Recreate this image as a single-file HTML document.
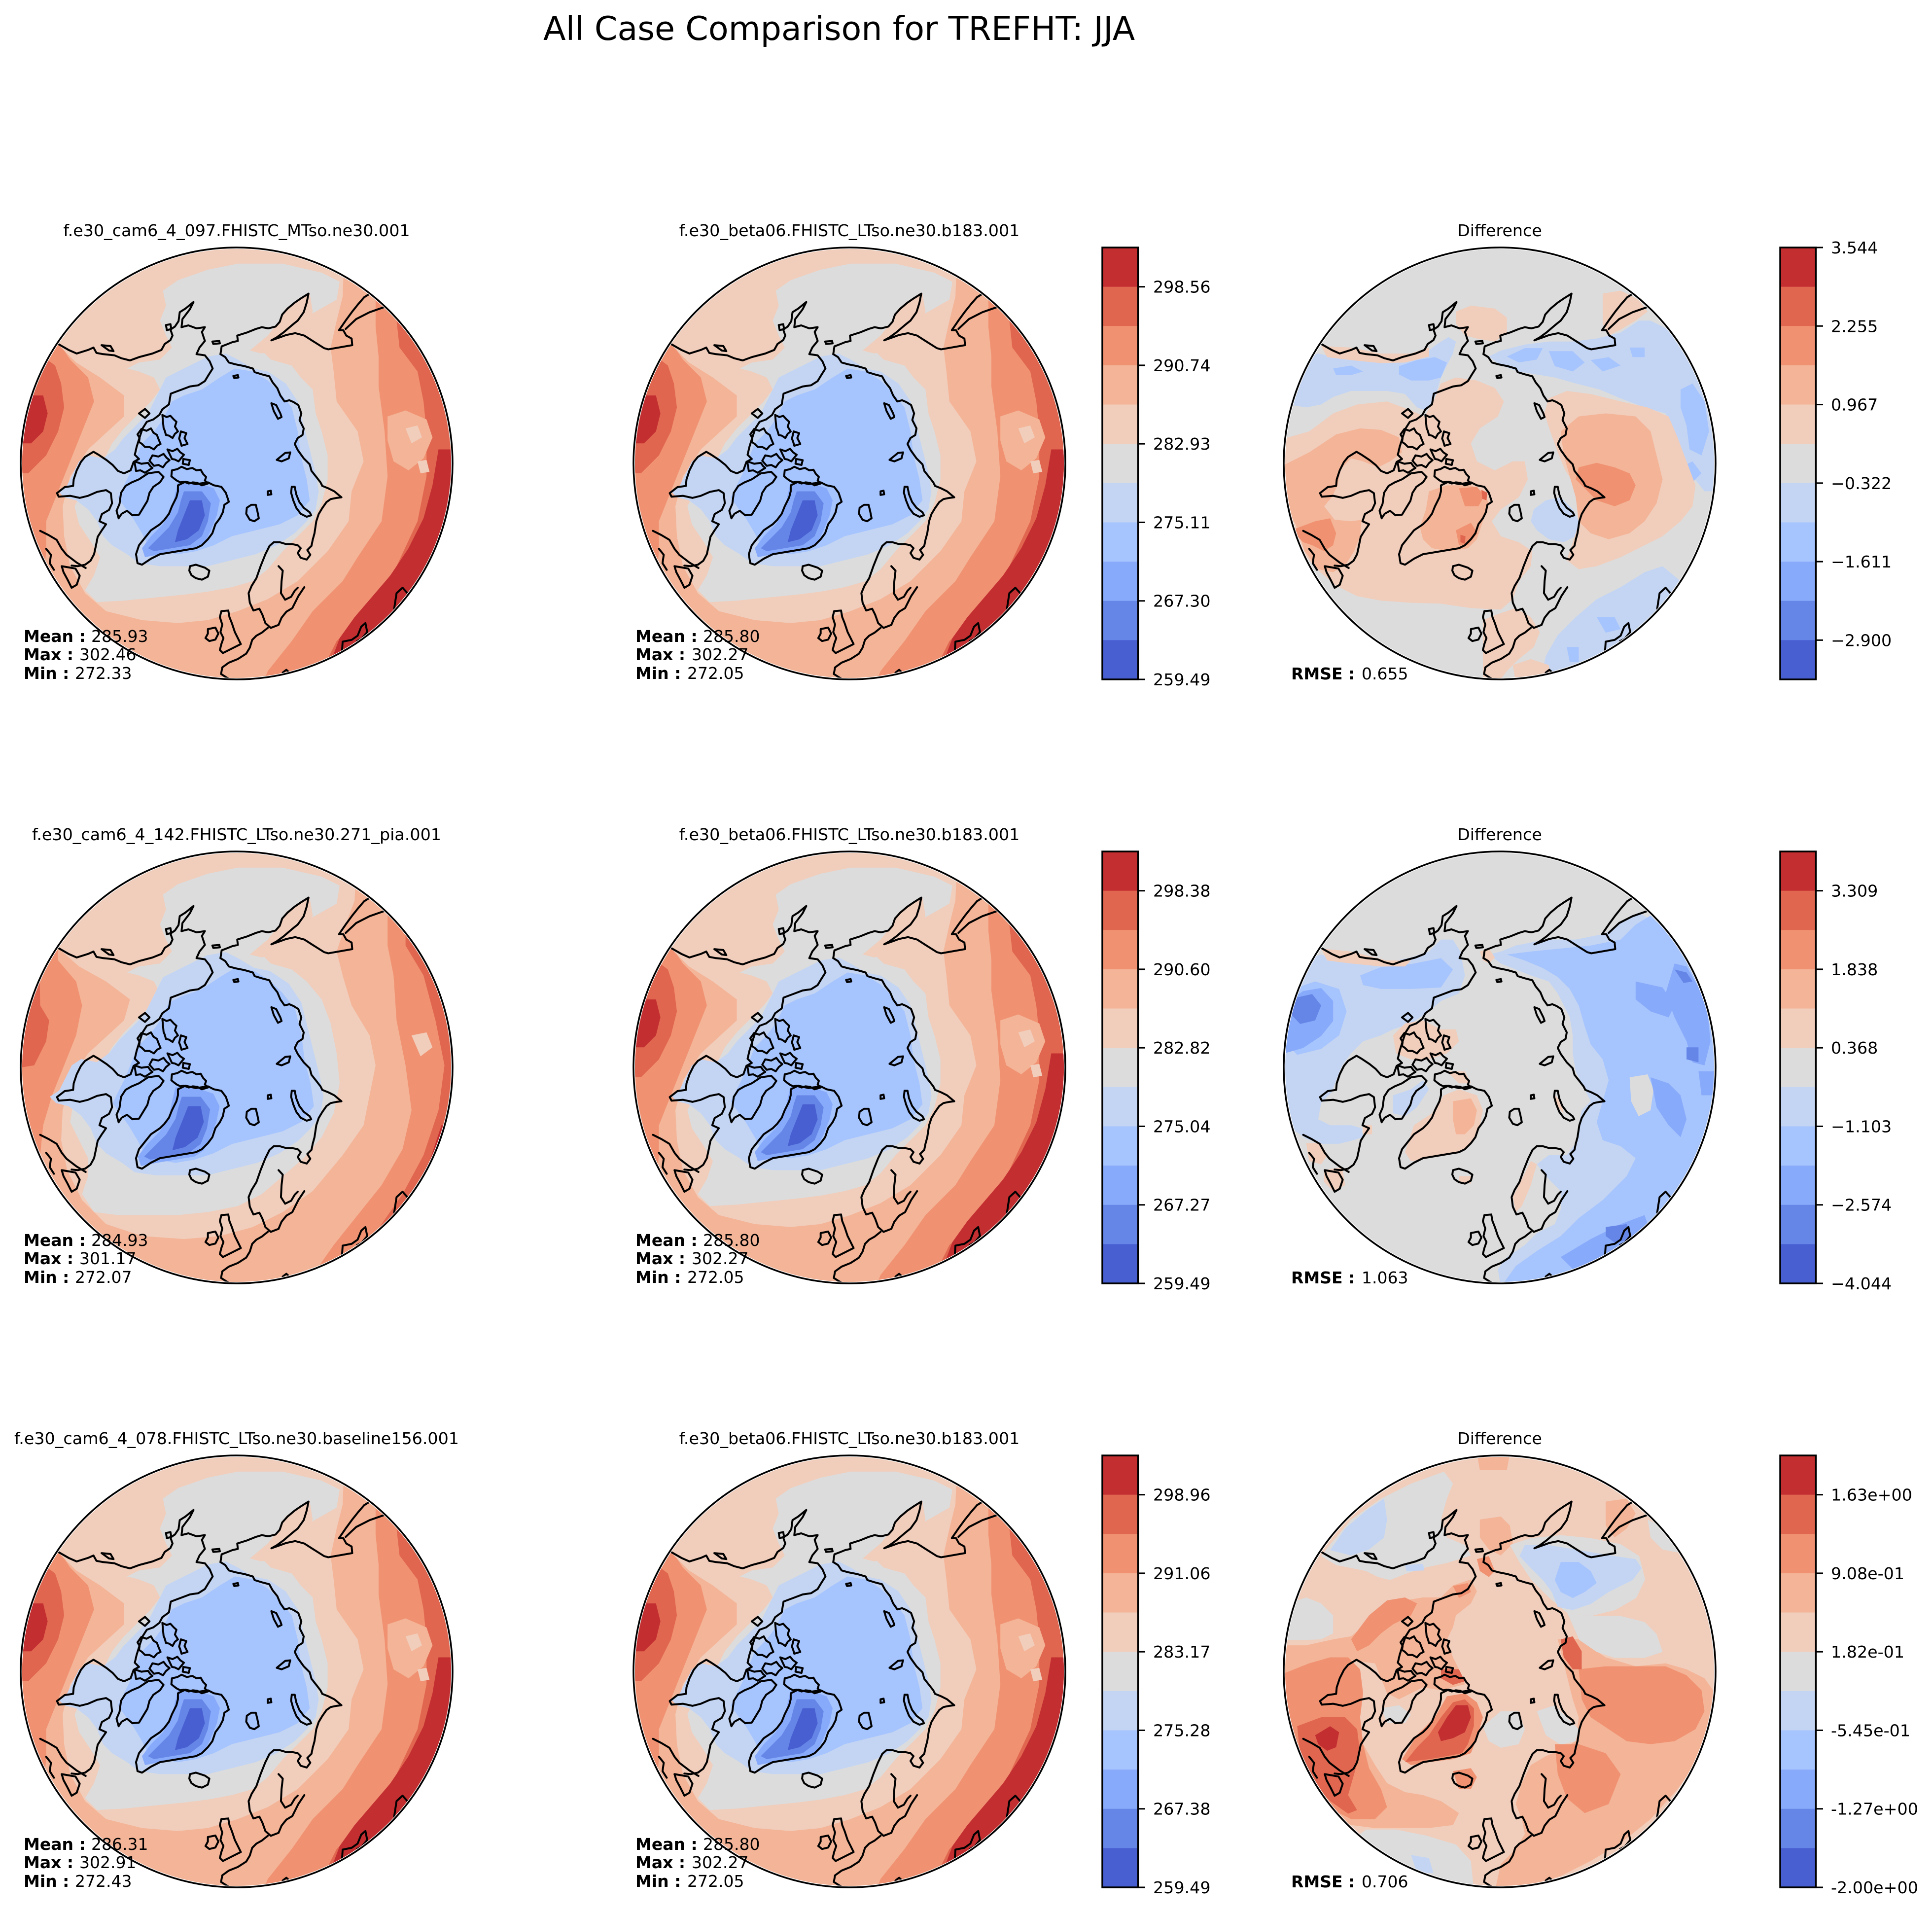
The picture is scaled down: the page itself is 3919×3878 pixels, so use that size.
<!DOCTYPE html>
<html><head><meta charset="utf-8"><style>
html,body{margin:0;padding:0;background:#fff;}
svg{display:block;}
text{font-family:"DejaVu Sans","Liberation Sans",sans-serif;fill:#000;}
.st{font-size:33.3px;}
.tk{font-size:33.3px;}
.lb{font-size:33px;font-weight:bold;}
.vl{font-size:33px;}
</style></head><body>
<svg xmlns="http://www.w3.org/2000/svg" xmlns:xlink="http://www.w3.org/1999/xlink" width="3919" height="3878" viewBox="0 0 3919 3878">
<defs>
<clipPath id="cc"><circle cx="796" cy="807" r="716"/></clipPath>

<g id="coast" fill="none" stroke="#000" stroke-width="6.5" stroke-linejoin="round" stroke-linecap="round">
<path d="M200,408 L235,428 L262,440 L300,428 L318,420 L328,438 L350,442 L388,446 L412,456 L440,463 L470,452 L515,440 L545,428 L556,408 L575,395 L582,380 L575,360 L590,350 L602,332 L606,302 L625,290 L652,268 L640,292 L615,325 L612,352 L635,346 L662,356 L690,352 L680,368 L690,398 L672,420 L662,442 L690,446 L706,466 L716,490 L702,512 L690,532 L668,546 L640,550 L608,562 L576,574 L570,610 L548,626 L538,645 L518,660"/>
<path d="M560,345 L575,342 L578,358 L563,362 Z M345,412 L375,415 L385,432 L370,430 Z M715,400 L738,398 L740,406 L718,408 Z"/>
<path d="M518,660 L496,668 L482,690 L472,720 L462,752 L456,778 L470,792 L452,802 L442,830 L420,840 L400,832 L382,812 L362,796 L335,778 L318,768 L290,785 L276,802 L262,830 L252,860 L250,882 L222,886 L196,906 L202,918 L240,915 L272,922 L300,915 L330,902 L360,896 L376,906 L380,940 L370,962 L346,976 L338,1000 L360,1010 L346,1030 L332,1052 L326,1082 L320,1110 L308,1132 L290,1145 L266,1150 L245,1148"/>
<path d="M140,1032 L168,1046 L195,1062 L212,1092 L228,1112 L262,1138 L282,1150 L292,1156 M212,1150 L258,1158 L272,1182 L262,1212 L245,1222 L232,1196 L218,1170 Z M160,1092 L176,1112 L172,1140 L186,1162"/>
<path d="M500,840 L535,835 L552,852 L540,870 L518,885 L505,905 L498,932 L484,955 L470,978 L448,980 L430,965 L412,975 L402,990 L395,965 L405,942 L410,905 L425,882 L446,870 L470,860 Z"/>
<path d="M548,645 L562,652 L575,648 L586,660 L595,668 L590,684 L600,700 L590,708 L582,722 L570,714 L560,712 L556,698 L552,688 Z M478,692 L495,698 L510,690 L518,704 L530,712 L536,728 L542,742 L530,748 L520,760 L505,752 L490,752 L480,742 L470,735 L472,722 L465,710 Z M610,700 L628,706 L622,722 L632,742 L612,748 L608,734 L604,724 Z M515,780 L535,784 L552,775 L562,788 L572,796 L560,806 L550,820 L535,812 L520,815 L505,798 Z M565,760 L582,766 L598,758 L608,770 L620,778 L610,790 L602,800 L590,794 L580,792 Z M618,792 L640,796 L636,812 L616,808 Z M455,800 L478,808 L500,805 L508,816 L515,822 L502,830 L490,838 L475,830 L460,832 Z M580,830 L598,826 L612,818 L630,826 L648,822 L662,830 L676,828 L684,842 L694,852 L690,864 L700,874 L680,880 L665,872 L650,870 L636,874 L620,868 L608,870 L596,864 L588,858 L578,850 Z M470,640 L490,625 L505,640 L490,655 Z"/>
<path d="M600,880 L625,868 L660,876 L700,870 L720,880 L745,885 L760,905 L770,935 L755,945 L750,970 L740,990 L725,1010 L715,1040 L700,1060 L680,1080 L660,1090 L630,1095 L600,1100 L570,1105 L540,1110 L510,1125 L480,1145 L465,1140 L460,1110 L470,1080 L490,1055 L510,1030 L540,1010 L555,995 L570,975 L580,950 L595,920 L600,900 Z"/>
<path d="M640,1150 L660,1145 L690,1155 L705,1165 L700,1185 L680,1195 L660,1190 L645,1180 L638,1165 Z"/>
<path d="M745,1300 L768,1298 L772,1320 L780,1340 L790,1370 L800,1390 L810,1410 L790,1420 L770,1430 L750,1440 L740,1430 L745,1410 L752,1390 L742,1370 L748,1345 L740,1320 Z M700,1360 L725,1355 L735,1375 L725,1395 L705,1400 L692,1390 L700,1375 Z"/>
<path d="M742,442 L746,416 L762,410 L782,402 L800,398 L798,380 L830,370 L860,358 L880,352 L902,356 L926,350 L940,334 L948,310 L966,290 L990,270 L1012,255 L1036,240 L1030,270 L1020,302 L1000,330 L980,346 L952,370 L930,386 L912,396 L940,386 L962,378 L992,372 L1022,380 L1050,398 L1088,422 L1102,426 L1182,412 L1180,390 L1162,380 L1152,362 L1138,362 L1160,330 L1182,300 L1202,275 L1222,252 L1238,242 L1250,232"/>
<path d="M1160,358 L1195,325 L1240,302 L1292,284"/>
<path d="M742,442 L758,452 L770,470 L792,476 L822,482 L850,490 L856,502 L882,510 L905,516 L916,536 L932,556 L942,580 L956,600 L972,596 L986,602 L1002,612 L1012,640 L1006,662 L1020,690 L1016,712 L1000,722 L990,742 L1000,762 L1020,790 L1040,810 L1046,832 L1062,852 L1076,870 L1082,882 L1102,890 L1122,900 L1146,920 L1130,922 L1110,926 L1096,936 L1082,956 L1070,976 L1062,1000 L1056,1040 L1050,1062 L1046,1082 L1032,1096 L1042,1112 L1030,1128 L1010,1122 L1000,1106 L1010,1090 L1000,1080 L980,1076 L960,1076 L940,1070 L920,1070 L906,1082 L892,1110 L876,1150 L862,1190 L846,1216 L836,1240 L840,1272 L852,1298 L872,1292 L882,1312 L892,1340 L910,1356 L936,1346 L946,1322 L962,1302 L982,1290 L992,1270 L1002,1250 L1022,1220"/>
<path d="M936,1150 L950,1165 L946,1200 L944,1240 L958,1262 L978,1252 L990,1232 L1000,1222"/>
<path d="M900,1356 L880,1372 L862,1382 L848,1396 L840,1422 L828,1442 L800,1460 L770,1472 L748,1488 L744,1510 L760,1520 L780,1532"/>
<path d="M1322,1292 L1330,1240 L1350,1222 L1368,1242 M1148,1432 L1150,1402 L1180,1396 L1200,1382 L1212,1352 L1226,1340 L1232,1370 L1214,1392 L1198,1400 M950,1505 L962,1496 L972,1505"/>
<path d="M980,885 L990,885 L995,910 L1005,935 L1020,955 L1040,970 L1045,980 L1030,985 L1010,975 L995,955 L985,930 L978,905 Z M830,955 L845,945 L860,945 L865,965 L870,990 L855,1000 L840,995 L828,975 Z M900,900 L910,898 L912,910 L900,912 Z M912,606 L928,612 L942,640 L946,652 L934,658 L920,632 Z M930,795 L958,772 L975,770 L970,790 L946,800 Z M785,515 L800,512 L802,520 L788,522 Z"/>
</g>

<g id="blueA">
<path fill="#c4d5f3" d="M560,520 L620,490 L700,450 L760,440 L800,460 L850,490 L900,500 L960,540 L1000,600 L1020,680 L1040,760 L1060,840 L1070,900 L1060,960 L1030,1000 L990,1040 L930,1080 L860,1110 L780,1130 L700,1150 L620,1150 L540,1150 L470,1140 L430,1110 L380,1080 L350,1050 L330,1000 L300,960 L260,930 L220,920 L200,900 L230,880 L250,840 L270,800 L300,780 L350,790 L390,760 L420,720 L460,680 L500,640 L530,580 Z"/>
<path fill="#a6c4fe" d="M580,600 L620,580 L680,560 L740,520 L790,490 L850,500 L900,530 L940,570 L980,620 L1000,700 L1010,780 L1030,860 L1040,930 L1000,980 L940,1010 L860,1030 L780,1050 L720,1080 L660,1100 L600,1110 L540,1100 L500,1080 L480,1040 L450,990 L420,950 L400,920 L420,880 L440,840 L460,790 L480,740 L520,700 L550,660 Z"/>
<path fill="#88aafa" d="M600,870 L660,870 L720,890 L740,930 L730,980 L710,1030 L690,1070 L660,1090 L600,1100 L540,1110 L490,1120 L480,1090 L510,1050 L550,1010 L580,960 L590,910 Z"/>
<path fill="#6686e7" d="M620,900 L680,900 L710,940 L700,1000 L680,1050 L640,1080 L580,1090 L520,1100 L500,1090 L530,1060 L570,1020 L600,970 L610,930 Z"/>
<path fill="#485fd1" d="M640,930 L680,930 L690,980 L670,1030 L630,1060 L590,1070 L600,1030 L620,980 Z"/>
</g>

<g id="mapA">
<rect x="0" y="0" width="1600" height="1650" fill="#f4b497"/>
<path fill="#f09272" d="M1260,0 L1260,350 L1270,450 L1270,550 L1290,700 L1300,850 L1280,1000 L1200,1120 L1150,1200 L1050,1300 L980,1400 L900,1500 L860,1600 L1700,1700 L1700,0 Z"/>
<path fill="#f09272" d="M0,0 L200,0 L200,400 L240,460 L300,520 L320,600 L280,700 L240,800 L200,900 L160,1000 L160,1100 L150,1200 L140,1300 L0,1300 Z"/>
<path fill="#e0664f" d="M1330,0 L1330,330 L1340,420 L1400,500 L1420,600 L1430,700 L1430,850 L1400,1000 L1330,1150 L1260,1250 L1180,1350 L1130,1400 L1080,1500 L1050,1600 L1700,1700 L1700,0 Z"/>
<path fill="#e0664f" d="M0,0 L150,0 L150,450 L190,480 L210,540 L220,620 L200,700 L160,780 L100,840 L0,840 Z"/>
<path fill="#c32e31" d="M1470,760 L1450,880 L1420,990 L1370,1090 L1310,1180 L1250,1250 L1190,1320 L1140,1390 L1110,1470 L1090,1600 L1700,1600 L1700,760 Z"/>
<path fill="#c32e31" d="M0,580 L150,580 L165,640 L150,700 L110,740 L0,740 Z"/>
<path fill="#f4b497" d="M1300,650 L1360,630 L1430,660 L1450,720 L1420,790 L1370,830 L1320,800 L1300,730 Z"/>
<path fill="#f1cdbb" d="M1360,690 L1400,680 L1415,720 L1380,740 Z M1400,800 L1430,795 L1440,835 L1410,840 Z"/>
<path fill="#f1cdbb" d="M150,380 L150,0 L1160,0 L1150,250 L1130,330 L1110,420 L1120,500 L1130,600 L1200,700 L1220,800 L1180,900 L1170,1000 L1100,1100 L1000,1200 L900,1260 L800,1300 L700,1330 L600,1340 L480,1330 L360,1300 L290,1240 L240,1150 L220,1050 L215,950 L240,850 L300,760 L420,650 L420,580 L340,520 L260,470 L190,400 Z"/>
<path fill="#dcdcdc" d="M550,230 L600,195 L700,160 L800,140 L950,140 L1080,170 L1140,200 L1130,260 L1060,300 L1000,330 L950,360 L900,400 L880,430 L910,460 L980,480 L1010,520 L1050,560 L1060,640 L1080,700 L1100,780 L1100,860 L1080,940 L1050,1000 L1000,1050 L950,1100 L900,1160 L850,1200 L780,1220 L700,1235 L620,1245 L520,1255 L420,1265 L330,1270 L290,1230 L320,1180 L340,1120 L310,1070 L270,1010 L255,950 L280,900 L320,850 L350,800 L380,740 L420,690 L470,640 L510,600 L540,560 L520,520 L470,500 L430,490 L470,470 L540,460 L580,420 L560,380 L540,330 L560,280 Z"/>
<path fill="#f1cdbb" d="M900,380 L940,330 L960,290 L1000,260 L1040,240 L1050,300 L1030,350 L990,390 L940,420 L880,440 L840,430 Z"/>
<use xlink:href="#blueA"/>
</g>

<g id="mapB">
<rect x="0" y="0" width="1600" height="1650" fill="#f4b497"/>
<path fill="#f09272" d="M1300,0 L1300,400 L1320,500 L1330,650 L1360,800 L1380,950 L1350,1080 L1280,1200 L1200,1300 L1120,1400 L1050,1500 L1000,1600 L1700,1700 L1700,0 Z"/>
<path fill="#f09272" d="M0,0 L180,0 L200,450 L260,520 L280,600 L260,700 L220,800 L180,900 L150,1000 L140,1100 L0,1100 Z"/>
<path fill="#e0664f" d="M1360,0 L1360,400 L1420,500 L1460,650 L1490,800 L1470,950 L1420,1100 L1350,1230 L1280,1330 L1220,1420 L1180,1520 L1150,1600 L1700,1700 L1700,0 Z"/>
<path fill="#e0664f" d="M0,0 L130,0 L140,600 L170,650 L160,720 L120,800 L0,820 Z"/>
<path fill="#c32e31" d="M1480,1000 L1440,1120 L1380,1230 L1320,1300 L1270,1350 L1250,1450 L1700,1600 L1700,1000 Z"/>
<path fill="#f1cdbb" d="M1380,700 L1430,690 L1450,740 L1410,770 Z"/>
<path fill="#f1cdbb" d="M150,380 L150,0 L1200,0 L1190,250 L1160,330 L1130,420 L1150,500 L1180,600 L1240,700 L1260,800 L1240,900 L1220,1000 L1150,1100 L1050,1220 L950,1290 L850,1340 L740,1370 L620,1380 L480,1370 L360,1330 L280,1250 L230,1150 L210,1050 L215,950 L240,850 L300,760 L420,650 L440,580 L360,520 L270,470 L190,400 Z"/>
<path fill="#dcdcdc" d="M550,230 L600,195 L700,160 L800,140 L950,140 L1080,170 L1140,200 L1130,260 L1060,300 L1000,330 L950,360 L900,400 L880,430 L910,460 L980,480 L1030,520 L1080,580 L1110,660 L1130,760 L1140,860 L1120,960 L1080,1040 L1020,1110 L950,1170 L880,1230 L800,1270 L700,1290 L600,1300 L500,1300 L400,1300 L320,1290 L280,1230 L300,1170 L300,1110 L270,1050 L240,990 L250,930 L280,880 L320,840 L350,790 L380,740 L420,690 L470,640 L510,600 L540,560 L520,520 L470,500 L430,490 L470,470 L540,460 L580,420 L560,380 L540,330 L560,280 Z"/>
<path fill="#f1cdbb" d="M900,380 L940,330 L960,290 L1000,260 L1040,240 L1050,300 L1030,350 L990,390 L940,420 L880,440 L840,430 Z"/>
<g transform="translate(760,800) scale(1.05) translate(-760,-800)"><use xlink:href="#blueA"/></g>
</g>

<g id="d1">
<rect x="0" y="0" width="1600" height="1650" fill="#dcdcdc"/>
<path fill="#c4d5f3" d="M100,470 L190,440 L260,455 L330,465 L400,470 L470,455 L540,445 L585,410 L625,385 L650,400 L640,440 L620,480 L600,520 L585,570 L570,610 L550,630 L520,620 L480,575 L420,565 L360,565 L300,565 L240,585 L200,610 L150,620 L60,605 L60,470 Z"/>
<path fill="#c4d5f3" d="M760,450 L800,430 L880,410 L960,400 L1040,400 L1120,390 L1200,370 L1260,330 L1300,330 L1360,360 L1420,410 L1470,480 L1500,560 L1530,700 L1530,900 L1480,900 L1440,850 L1400,780 L1380,700 L1350,640 L1280,620 L1200,590 L1130,560 L1050,540 L980,520 L920,510 L860,500 L800,480 Z"/>
<path fill="#c4d5f3" d="M930,1540 L950,1450 L990,1380 L1050,1320 L1120,1260 L1200,1220 L1280,1170 L1340,1150 L1400,1200 L1380,1280 L1330,1350 L1250,1420 L1150,1480 L1050,1540 Z"/>
<path fill="#c4d5f3" d="M910,960 L950,930 L1000,920 L1040,960 L1060,1000 L1050,1050 L1010,1070 L960,1060 L920,1030 L900,1000 Z"/>
<path fill="#a6c4fe" d="M240,490 L300,480 L340,500 L300,512 L250,512 Z M460,482 L520,462 L580,452 L620,470 L600,520 L560,530 L500,530 L460,510 Z M820,450 L880,422 L940,422 L920,460 L860,470 Z M960,432 L1040,432 L1080,470 L1040,500 L980,482 Z M1100,462 L1160,452 L1200,480 L1140,500 Z M1230,420 L1280,420 L1280,452 L1240,452 Z M1400,560 L1440,540 L1480,600 L1495,700 L1470,780 L1430,760 L1420,680 L1400,620 Z M1400,820 L1440,800 L1470,840 L1440,870 Z M1120,1320 L1180,1320 L1200,1360 L1150,1372 Z M1020,1420 L1060,1420 L1060,1470 L1030,1470 Z"/>
<path fill="#f1cdbb" d="M90,720 L160,700 L240,640 L320,610 L420,600 L500,630 L545,650 L575,600 L600,540 L650,520 L720,530 L780,555 L810,600 L790,650 L730,690 L700,740 L720,800 L780,830 L840,800 L880,800 L890,860 L860,920 L800,960 L770,1000 L800,1050 L860,1070 L905,1100 L900,1150 L860,1200 L840,1260 L800,1295 L700,1290 L600,1275 L500,1272 L400,1265 L320,1250 L250,1215 L185,1160 L135,1100 L105,1020 L60,920 L60,720 Z"/>
<path fill="#f1cdbb" d="M960,590 L1020,565 L1100,575 L1200,600 L1290,620 L1360,650 L1390,720 L1420,800 L1450,880 L1440,950 L1400,1000 L1340,1050 L1280,1080 L1200,1120 L1120,1150 L1060,1160 L1020,1130 L1040,1070 L1060,1010 L1080,950 L1055,890 L1015,830 L990,770 L965,700 L945,640 Z"/>
<path fill="#f1cdbb" d="M650,300 L700,280 L780,290 L820,320 L820,370 L780,400 L720,390 L680,380 L650,340 Z M1140,240 L1200,230 L1260,260 L1290,300 L1250,330 L1200,360 L1160,380 L1140,340 Z M200,415 L300,420 L400,440 L500,440 L560,420 L560,450 L480,470 L400,472 L300,462 L220,452 Z M740,1330 L790,1310 L850,1290 L900,1320 L930,1370 L910,1420 L860,1460 L820,1500 L790,1540 L740,1540 Z M840,1480 L900,1460 L960,1480 L970,1540 L850,1540 Z"/>
<path fill="#f4b497" d="M60,820 L160,770 L250,710 L330,690 L400,695 L460,720 L470,770 L430,800 L390,820 L340,800 L300,790 L265,825 L255,880 L235,920 L210,950 L245,995 L300,1000 L335,995 L330,1050 L310,1100 L285,1140 L240,1170 L190,1160 L145,1100 L115,1010 L60,920 Z"/>
<path fill="#f4b497" d="M560,900 L620,880 L700,880 L740,900 L760,940 L740,1000 L720,1060 L690,1090 L630,1100 L570,1090 L540,1060 L530,1020 L550,960 Z"/>
<path fill="#f4b497" d="M1000,700 L1060,650 L1150,640 L1250,650 L1300,700 L1320,780 L1340,860 L1320,940 L1280,1000 L1230,1040 L1160,1060 L1100,1040 L1060,1000 L1050,920 L1030,850 L1010,780 Z"/>
<path fill="#f09272" d="M1060,820 L1120,805 L1180,820 L1230,840 L1250,880 L1230,930 L1180,950 L1120,930 L1080,890 L1050,860 Z M660,890 L720,885 L745,915 L725,950 L680,950 Z M650,1030 L700,1005 L722,1040 L690,1080 L660,1080 Z M100,1030 L180,1000 L230,990 L250,1040 L240,1080 L210,1100 L170,1080 L140,1070 Z"/>
<path fill="#e0664f" d="M735,895 L755,905 L752,930 L738,925 Z M665,1045 L682,1050 L680,1075 L665,1070 Z"/>
</g>

<g id="d2">
<rect x="0" y="0" width="1600" height="1650" fill="#dcdcdc"/>
<path fill="#c4d5f3" d="M60,470 L200,430 L300,460 L400,460 L500,440 L560,420 L600,380 L640,380 L665,420 L680,500 L660,560 L600,585 L560,620 L500,660 L440,680 L400,700 L340,720 L300,760 L270,800 L250,850 L235,890 L200,925 L190,980 L230,1000 L300,1000 L335,1010 L340,1040 L300,1052 L260,1062 L200,1062 L150,1045 L100,1010 L60,900 Z"/>
<path fill="#a6c4fe" d="M60,560 L180,520 L260,545 L285,620 L260,700 L200,745 L120,765 L60,700 Z M330,500 L400,472 L500,462 L600,442 L640,480 L600,540 L500,545 L400,545 L340,532 Z"/>
<path fill="#88aafa" d="M70,600 L140,552 L200,542 L240,585 L240,652 L200,702 L140,742 L70,762 Z"/>
<path fill="#6686e7" d="M90,580 L170,562 L200,600 L180,650 L130,662 L90,620 Z"/>
<path fill="#c4d5f3" d="M760,430 L800,420 L850,400 L950,380 L1050,380 L1150,360 L1200,320 L1260,290 L1330,330 L1420,420 L1480,520 L1530,650 L1530,800 L1530,950 L1480,1100 L1420,1220 L1340,1330 L1250,1420 L1150,1480 L1050,1540 L800,1540 L790,1480 L820,1440 L880,1400 L920,1360 L980,1330 L1000,1280 L1000,1220 L960,1180 L920,1130 L960,1100 L1020,1100 L1050,1060 L1060,1000 L1070,950 L1100,920 L1080,880 L1050,820 L1040,760 L1040,700 L1030,640 L1010,600 L990,560 L960,520 L900,500 L850,480 L800,460 Z"/>
<path fill="#a6c4fe" d="M820,430 L900,420 L1000,410 L1100,400 L1200,380 L1250,330 L1300,300 L1400,400 L1480,520 L1530,700 L1530,900 L1480,1080 L1400,1220 L1300,1340 L1200,1440 L1100,1500 L950,1540 L800,1540 L850,1470 L920,1420 L1000,1370 L1060,1310 L1140,1250 L1220,1170 L1250,1110 L1200,1070 L1140,1050 L1120,990 L1140,920 L1160,850 L1140,780 L1100,730 L1080,670 L1060,600 L1030,545 L990,505 L940,475 L880,450 Z"/>
<path fill="#dcdcdc" d="M1230,840 L1290,830 L1310,880 L1300,950 L1260,970 L1235,920 Z"/>
<path fill="#88aafa" d="M1380,460 L1420,470 L1460,540 L1490,620 L1500,720 L1480,800 L1440,790 L1420,720 L1380,640 L1350,560 Z M1250,520 L1340,540 L1380,600 L1360,640 L1300,620 L1250,580 Z M1300,840 L1360,860 L1400,900 L1420,980 L1400,1040 L1360,1000 L1320,940 Z M1000,1440 L1100,1380 L1200,1330 L1280,1300 L1300,1360 L1220,1420 L1120,1470 L1050,1490 Z M1460,820 L1520,820 L1520,900 L1470,900 Z"/>
<path fill="#6686e7" d="M1380,480 L1420,490 L1440,520 L1410,525 Z M1420,740 L1460,740 L1460,790 L1420,780 Z M1150,1340 L1220,1330 L1240,1380 L1180,1392 L1150,1370 Z"/>
<path fill="#c4d5f3" d="M440,900 L500,880 L540,850 L560,880 L520,940 L480,970 L440,960 Z"/>
<path fill="#f1cdbb" d="M510,1000 L570,960 L610,900 L660,880 L720,900 L740,950 L730,1000 L710,1050 L680,1080 L620,1100 L560,1110 L500,1120 L480,1090 Z M440,700 L480,660 L540,650 L600,680 L650,680 L660,720 L620,760 L560,780 L500,780 L450,760 Z M620,820 L680,820 L700,860 L660,860 Z M200,410 L300,420 L420,450 L500,450 L480,470 L400,470 L300,460 L220,450 Z M730,420 L760,410 L780,440 L760,460 L740,450 Z M150,1060 L200,1060 L220,1100 L200,1130 L160,1120 Z M210,1150 L270,1140 L280,1200 L240,1220 L210,1190 Z M340,1000 L370,1000 L370,1030 L340,1030 Z M840,1240 L870,1180 L900,1120 L920,1130 L900,1200 L870,1270 L850,1290 Z M980,900 L1000,920 L1010,960 L990,940 Z M660,1170 L700,1170 L700,1195 L660,1190 Z"/>
<path fill="#f4b497" d="M640,920 L700,910 L720,950 L710,1000 L680,1030 L650,1030 L640,980 Z"/>
</g>

<g id="d3">
<rect x="0" y="0" width="1600" height="1650" fill="#f1cdbb"/>
<path fill="#f4b497" d="M60,720 L150,720 L240,700 L300,690 L360,640 L420,600 L480,570 L540,560 L600,560 L640,520 L700,500 L720,540 L700,580 L650,620 L640,660 L620,700 L640,760 L660,800 L680,850 L600,870 L540,860 L500,880 L460,900 L420,880 L380,780 L300,770 L250,800 L220,880 L200,920 L250,960 L300,1000 L340,1050 L380,1120 L420,1180 L480,1210 L540,1220 L600,1240 L660,1280 L640,1320 L560,1330 L460,1330 L380,1330 L300,1320 L240,1290 L180,1230 L130,1150 L100,1050 L60,950 Z"/>
<path fill="#f4b497" d="M990,700 L1060,700 L1150,760 L1250,790 L1350,780 L1420,800 L1480,830 L1530,900 L1530,1000 L1460,1100 L1390,1200 L1300,1300 L1200,1380 L1100,1440 L1000,1490 L900,1520 L850,1540 L780,1540 L800,1450 L850,1400 L880,1350 L870,1300 L850,1250 L870,1180 L900,1120 L950,1090 L1000,1070 L1050,1040 L1060,960 L1040,900 L1020,820 Z"/>
<path fill="#f4b497" d="M730,300 L800,290 L830,320 L840,380 L800,420 L760,400 L730,360 Z M720,80 L830,80 L820,135 L730,135 Z M1150,240 L1220,230 L1250,280 L1220,330 L1180,360 L1150,320 Z"/>
<path fill="#dcdcdc" d="M220,395 L300,300 L400,230 L500,180 L610,140 L640,180 L620,230 L600,300 L620,360 L680,385 L700,420 L620,445 L540,462 L480,482 L430,502 L390,492 L350,472 L300,462 L250,452 L200,422 Z"/>
<path fill="#dcdcdc" d="M830,385 L900,362 L1000,352 L1100,362 L1200,382 L1262,422 L1282,500 L1252,562 L1182,602 L1102,622 L1022,612 L962,562 L902,502 L862,442 Z M1022,612 L1100,622 L1200,622 L1280,642 L1320,682 L1340,742 L1280,762 L1180,762 L1120,742 L1062,702 Z"/>
<path fill="#dcdcdc" d="M60,590 L150,560 L200,580 L240,620 L240,680 L200,700 L150,702 L60,702 Z M280,1385 L350,1335 L450,1335 L550,1355 L650,1385 L700,1440 L710,1540 L600,1540 L450,1500 L350,1460 Z M740,990 L800,940 L860,940 L880,1000 L860,1050 L800,1062 L760,1040 Z M920,940 L980,920 L1020,960 L1060,1000 L1050,1040 L1000,1052 L950,1020 Z M400,930 L460,920 L500,950 L480,980 L420,980 Z M1290,300 L1350,330 L1400,370 L1390,410 L1340,400 L1300,360 Z"/>
<path fill="#c4d5f3" d="M230,402 L280,330 L350,270 L410,230 L420,300 L410,360 L360,400 L300,420 Z M880,385 L960,385 L1060,402 L1180,422 L1250,432 L1270,462 L1240,502 L1160,542 L1100,582 L1040,602 L990,592 L970,542 L940,502 L900,462 L862,422 Z M480,452 L540,448 L545,470 L485,472 Z M500,1420 L560,1430 L575,1480 L520,1480 Z"/>
<path fill="#a6c4fe" d="M1000,442 L1060,442 L1100,472 L1120,512 L1080,542 L1040,562 L1000,542 L980,502 Z"/>
<path fill="#f09272" d="M60,820 L160,780 L230,760 L290,760 L330,800 L340,880 L330,960 L340,1050 L360,1130 L400,1200 L420,1260 L380,1300 L300,1300 L220,1260 L160,1200 L120,1120 L100,1030 L60,930 Z M300,700 L360,620 L420,570 L480,560 L520,580 L500,620 L440,650 L400,680 L360,720 L320,740 Z M470,1100 L520,1020 L580,960 L620,890 L680,880 L720,910 L740,960 L720,1030 L700,1080 L640,1100 L560,1110 L500,1120 Z M1060,800 L1150,790 L1250,790 L1350,790 L1420,820 L1470,870 L1480,940 L1450,1000 L1380,1040 L1300,1050 L1220,1040 L1160,1000 L1100,960 L1070,900 Z M980,1050 L1060,1050 L1150,1080 L1200,1150 L1160,1250 L1080,1280 L1020,1230 L990,1150 Z M720,432 L760,422 L780,472 L760,492 L730,472 Z M640,522 L690,512 L700,542 L660,562 Z M640,1140 L700,1130 L720,1160 L700,1200 L660,1200 Z"/>
<path fill="#e0664f" d="M120,990 L200,960 L280,960 L320,1000 L330,1080 L310,1150 L290,1220 L320,1270 L290,1282 L230,1240 L190,1200 L150,1160 L130,1090 Z M480,1110 L520,1060 L560,1020 L600,960 L640,910 L680,900 L710,930 L710,990 L690,1050 L670,1080 L620,1090 L560,1100 Z M1000,700 L1040,690 L1070,740 L1070,800 L1040,800 L1010,760 Z M600,800 L660,800 L680,840 L640,852 L600,830 Z"/>
<path fill="#c32e31" d="M180,1020 L230,990 L260,1010 L250,1060 L220,1072 L190,1050 Z M590,1010 L620,960 L650,920 L690,920 L700,960 L680,1010 L640,1030 L600,1040 Z"/>
</g>

<g id="cb" stroke="none">
<rect x="0" y="0" width="72.5" height="80" fill="#c32e31"/>
<rect x="0" y="79.64" width="72.5" height="80" fill="#e0664f"/>
<rect x="0" y="159.27" width="72.5" height="80" fill="#f09272"/>
<rect x="0" y="238.91" width="72.5" height="80" fill="#f4b497"/>
<rect x="0" y="318.55" width="72.5" height="80" fill="#f1cdbb"/>
<rect x="0" y="398.18" width="72.5" height="80" fill="#dcdcdc"/>
<rect x="0" y="477.82" width="72.5" height="80" fill="#c4d5f3"/>
<rect x="0" y="557.45" width="72.5" height="80" fill="#a6c4fe"/>
<rect x="0" y="637.09" width="72.5" height="80" fill="#88aafa"/>
<rect x="0" y="716.73" width="72.5" height="80" fill="#6686e7"/>
<rect x="0" y="796.36" width="72.5" height="79.64" fill="#485fd1"/>
<rect x="0" y="0" width="72.5" height="876" fill="none" stroke="#000" stroke-width="3.5"/>
</g>
<g id="tkEven" stroke="#000" stroke-width="3">
<line x1="72.5" y1="876" x2="87" y2="876"/><line x1="72.5" y1="716.73" x2="87" y2="716.73"/><line x1="72.5" y1="557.45" x2="87" y2="557.45"/><line x1="72.5" y1="398.18" x2="87" y2="398.18"/><line x1="72.5" y1="238.91" x2="87" y2="238.91"/><line x1="72.5" y1="79.64" x2="87" y2="79.64"/>
</g>
<g id="tkOdd" stroke="#000" stroke-width="3">
<line x1="72.5" y1="796.36" x2="87" y2="796.36"/><line x1="72.5" y1="637.09" x2="87" y2="637.09"/><line x1="72.5" y1="477.82" x2="87" y2="477.82"/><line x1="72.5" y1="318.55" x2="87" y2="318.55"/><line x1="72.5" y1="159.27" x2="87" y2="159.27"/><line x1="72.5" y1="0" x2="87" y2="0"/>
</g>
</defs>

<rect x="0" y="0" width="3919" height="3878" fill="#fff"/>
<text x="1102" y="81" style="font-size:66.7px">All Case Comparison for TREFHT: JJA</text>

<!-- ROW 1 -->
<text class="st" x="480" y="479" text-anchor="middle">f.e30_cam6_4_097.FHISTC_MTso.ne30.001</text>
<text class="st" x="1723" y="479" text-anchor="middle">f.e30_beta06.FHISTC_LTso.ne30.b183.001</text>
<text class="st" x="3042" y="479" text-anchor="middle">Difference</text>

<g transform="translate(-3.57,449.75) scale(0.6075)">
<g clip-path="url(#cc)"><use xlink:href="#mapA"/><use xlink:href="#coast"/></g>
<circle cx="796" cy="807" r="721" fill="none" stroke="#000" stroke-width="5.8"/>
</g>
<g transform="translate(1239.43,449.75) scale(0.6075)">
<g clip-path="url(#cc)"><use xlink:href="#mapA"/><use xlink:href="#coast"/></g>
<circle cx="796" cy="807" r="721" fill="none" stroke="#000" stroke-width="5.8"/>
</g>
<g transform="translate(2558.43,449.75) scale(0.6075)">
<g clip-path="url(#cc)"><use xlink:href="#d1"/><use xlink:href="#coast"/></g>
<circle cx="796" cy="807" r="721" fill="none" stroke="#000" stroke-width="5.8"/>
</g>

<text class="lb" x="48" y="1302">Mean :</text><text class="vl" x="185" y="1302">285.93</text>
<text class="lb" x="48" y="1339">Max :</text><text class="vl" x="161" y="1339">302.46</text>
<text class="lb" x="48" y="1377">Min :</text><text class="vl" x="152" y="1377">272.33</text>
<text class="lb" x="1289" y="1302">Mean :</text><text class="vl" x="1426" y="1302">285.80</text>
<text class="lb" x="1289" y="1339">Max :</text><text class="vl" x="1403" y="1339">302.27</text>
<text class="lb" x="1289" y="1377">Min :</text><text class="vl" x="1394" y="1377">272.05</text>
<text class="lb" x="2619" y="1378">RMSE :</text><text class="vl" x="2762" y="1378">0.655</text>

<g transform="translate(2236,502)"><use xlink:href="#cb"/><use xlink:href="#tkEven"/>
<text class="tk" x="103" y="888">259.49</text><text class="tk" x="103" y="728.73">267.30</text><text class="tk" x="103" y="569.45">275.11</text><text class="tk" x="103" y="410.18">282.93</text><text class="tk" x="103" y="250.91">290.74</text><text class="tk" x="103" y="91.64">298.56</text>
</g>
<g transform="translate(3611,502)"><use xlink:href="#cb"/><use xlink:href="#tkOdd"/>
<text class="tk" x="103" y="808.36">−2.900</text><text class="tk" x="103" y="649.09">−1.611</text><text class="tk" x="103" y="489.82">−0.322</text><text class="tk" x="103" y="330.55">0.967</text><text class="tk" x="103" y="171.27">2.255</text><text class="tk" x="103" y="12">3.544</text>
</g>

<!-- ROW 2 -->
<text class="st" x="480" y="1704" text-anchor="middle">f.e30_cam6_4_142.FHISTC_LTso.ne30.271_pia.001</text>
<text class="st" x="1723" y="1704" text-anchor="middle">f.e30_beta06.FHISTC_LTso.ne30.b183.001</text>
<text class="st" x="3042" y="1704" text-anchor="middle">Difference</text>

<g transform="translate(-3.57,1674.75) scale(0.6075)">
<g clip-path="url(#cc)"><use xlink:href="#mapB"/><use xlink:href="#coast"/></g>
<circle cx="796" cy="807" r="721" fill="none" stroke="#000" stroke-width="5.8"/>
</g>
<g transform="translate(1239.43,1674.75) scale(0.6075)">
<g clip-path="url(#cc)"><use xlink:href="#mapA"/><use xlink:href="#coast"/></g>
<circle cx="796" cy="807" r="721" fill="none" stroke="#000" stroke-width="5.8"/>
</g>
<g transform="translate(2558.43,1674.75) scale(0.6075)">
<g clip-path="url(#cc)"><use xlink:href="#d2"/><use xlink:href="#coast"/></g>
<circle cx="796" cy="807" r="721" fill="none" stroke="#000" stroke-width="5.8"/>
</g>

<text class="lb" x="48" y="2527">Mean :</text><text class="vl" x="185" y="2527">284.93</text>
<text class="lb" x="48" y="2564">Max :</text><text class="vl" x="161" y="2564">301.17</text>
<text class="lb" x="48" y="2602">Min :</text><text class="vl" x="152" y="2602">272.07</text>
<text class="lb" x="1289" y="2527">Mean :</text><text class="vl" x="1426" y="2527">285.80</text>
<text class="lb" x="1289" y="2564">Max :</text><text class="vl" x="1403" y="2564">302.27</text>
<text class="lb" x="1289" y="2602">Min :</text><text class="vl" x="1394" y="2602">272.05</text>
<text class="lb" x="2619" y="2603">RMSE :</text><text class="vl" x="2762" y="2603">1.063</text>

<g transform="translate(2236,1727)"><use xlink:href="#cb"/><use xlink:href="#tkEven"/>
<text class="tk" x="103" y="888">259.49</text><text class="tk" x="103" y="728.73">267.27</text><text class="tk" x="103" y="569.45">275.04</text><text class="tk" x="103" y="410.18">282.82</text><text class="tk" x="103" y="250.91">290.60</text><text class="tk" x="103" y="91.64">298.38</text>
</g>
<g transform="translate(3611,1727)"><use xlink:href="#cb"/><use xlink:href="#tkEven"/>
<text class="tk" x="103" y="888">−4.044</text><text class="tk" x="103" y="728.73">−2.574</text><text class="tk" x="103" y="569.45">−1.103</text><text class="tk" x="103" y="410.18">0.368</text><text class="tk" x="103" y="250.91">1.838</text><text class="tk" x="103" y="91.64">3.309</text>
</g>

<!-- ROW 3 -->
<text class="st" x="480" y="2929" text-anchor="middle">f.e30_cam6_4_078.FHISTC_LTso.ne30.baseline156.001</text>
<text class="st" x="1723" y="2929" text-anchor="middle">f.e30_beta06.FHISTC_LTso.ne30.b183.001</text>
<text class="st" x="3042" y="2929" text-anchor="middle">Difference</text>

<g transform="translate(-3.57,2899.75) scale(0.6075)">
<g clip-path="url(#cc)"><use xlink:href="#mapA"/><use xlink:href="#coast"/></g>
<circle cx="796" cy="807" r="721" fill="none" stroke="#000" stroke-width="5.8"/>
</g>
<g transform="translate(1239.43,2899.75) scale(0.6075)">
<g clip-path="url(#cc)"><use xlink:href="#mapA"/><use xlink:href="#coast"/></g>
<circle cx="796" cy="807" r="721" fill="none" stroke="#000" stroke-width="5.8"/>
</g>
<g transform="translate(2558.43,2899.75) scale(0.6075)">
<g clip-path="url(#cc)"><use xlink:href="#d3"/><use xlink:href="#coast"/></g>
<circle cx="796" cy="807" r="721" fill="none" stroke="#000" stroke-width="5.8"/>
</g>

<text class="lb" x="48" y="3752">Mean :</text><text class="vl" x="185" y="3752">286.31</text>
<text class="lb" x="48" y="3789">Max :</text><text class="vl" x="161" y="3789">302.91</text>
<text class="lb" x="48" y="3827">Min :</text><text class="vl" x="152" y="3827">272.43</text>
<text class="lb" x="1289" y="3752">Mean :</text><text class="vl" x="1426" y="3752">285.80</text>
<text class="lb" x="1289" y="3789">Max :</text><text class="vl" x="1403" y="3789">302.27</text>
<text class="lb" x="1289" y="3827">Min :</text><text class="vl" x="1394" y="3827">272.05</text>
<text class="lb" x="2619" y="3828">RMSE :</text><text class="vl" x="2762" y="3828">0.706</text>

<g transform="translate(2236,2952)"><use xlink:href="#cb"/><use xlink:href="#tkEven"/>
<text class="tk" x="103" y="888">259.49</text><text class="tk" x="103" y="728.73">267.38</text><text class="tk" x="103" y="569.45">275.28</text><text class="tk" x="103" y="410.18">283.17</text><text class="tk" x="103" y="250.91">291.06</text><text class="tk" x="103" y="91.64">298.96</text>
</g>
<g transform="translate(3611,2952)"><use xlink:href="#cb"/><use xlink:href="#tkEven"/>
<text class="tk" x="103" y="888">-2.00e+00</text><text class="tk" x="103" y="728.73">-1.27e+00</text><text class="tk" x="103" y="569.45">-5.45e-01</text><text class="tk" x="103" y="410.18">1.82e-01</text><text class="tk" x="103" y="250.91">9.08e-01</text><text class="tk" x="103" y="91.64">1.63e+00</text>
</g>
</svg>
</body></html>
